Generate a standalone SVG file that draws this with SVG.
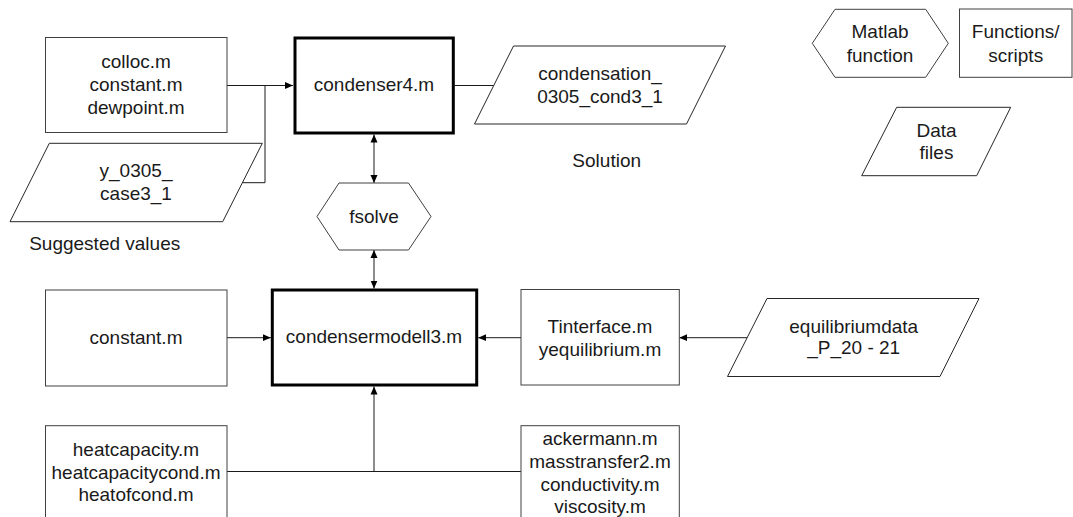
<svg xmlns="http://www.w3.org/2000/svg" width="1073" height="517" viewBox="0 0 1073 517">
  <defs>
    <style>
      .box { fill: #ffffff; stroke: #404040; stroke-width: 1; }
      .main { fill: #ffffff; stroke: #000000; stroke-width: 3; }
      .data { fill: #ffffff; stroke: #262626; stroke-width: 1; }
      .func { fill: #ffffff; stroke: #404040; stroke-width: 1; }
      .conn { fill: none; stroke: #1a1a1a; stroke-width: 1; }
      text { font-family: "Liberation Sans", Arial, sans-serif; font-size: 19px; fill: #1a1a1a; text-anchor: middle; }
    </style>
    <marker id="arrow" markerUnits="userSpaceOnUse" markerWidth="10" markerHeight="10" refX="8" refY="4" orient="auto-start-reverse" viewBox="0 0 10 8">
      <path d="M0,0.5 L8,4 L0,7.5 Z" fill="#000000"/>
    </marker>
  </defs>
  <rect width="1073" height="517" fill="#ffffff"/>

  <!-- connectors -->
  <g id="connectors">
    <path class="conn" d="M227,85.5 H293" marker-end="url(#arrow)"/>
    <path class="conn" d="M243,182.7 H265 V85.5"/>
    <path class="conn" d="M454.5,85.5 H493.7"/>
    <path class="conn" d="M374,134.5 V183" marker-start="url(#arrow)" marker-end="url(#arrow)"/>
    <path class="conn" d="M374,250 V288.5" marker-start="url(#arrow)" marker-end="url(#arrow)"/>
    <path class="conn" d="M227,337.7 H270.8" marker-end="url(#arrow)"/>
    <path class="conn" d="M521,337.7 H478.2" marker-end="url(#arrow)"/>
    <path class="conn" d="M747,337.7 H679.3" marker-end="url(#arrow)"/>
    <path class="conn" d="M227,471.5 H521"/>
    <path class="conn" d="M374,471.5 V386.5" marker-end="url(#arrow)"/>
  </g>

  <!-- inputs to condenser4.m -->
  <g id="colloc">
    <rect class="box" x="45.5" y="37.5" width="181.5" height="95"/>
    <text x="136" y="68">colloc.m</text>
    <text x="136" y="91">constant.m</text>
    <text x="136" y="114">dewpoint.m</text>
  </g>

  <g id="suggested">
    <polygon class="data" points="49.3,143.3 262.3,143.3 222.7,221.7 10,221.7"/>
    <text x="136" y="177">y_0305_</text>
    <text x="136" y="200">case3_1</text>
    <text x="104.7" y="250">Suggested values</text>
  </g>

  <g id="condenser4">
    <rect class="main" x="295" y="38" width="158.3" height="95"/>
    <text x="374" y="91">condenser4.m</text>
  </g>

  <g id="solution">
    <polygon class="data" points="513.5,46 725.5,46 686.5,124 474.5,124"/>
    <text x="600" y="80">condensation_</text>
    <text x="600" y="102.7">0305_cond3_1</text>
    <text x="606.7" y="167">Solution</text>
  </g>

  <g id="fsolve">
    <polygon class="func" points="317,216.5 339,183 408.5,183 431,216.5 408.5,250 339,250"/>
    <text x="374" y="223">fsolve</text>
  </g>

  <!-- model layer -->
  <g id="constant">
    <rect class="box" x="45.5" y="290" width="181.5" height="96"/>
    <text x="136" y="344">constant.m</text>
  </g>

  <g id="condensermodell3">
    <rect class="main" x="272.3" y="290" width="204.4" height="95"/>
    <text x="374" y="343">condensermodell3.m</text>
  </g>

  <g id="tinterface">
    <rect class="box" x="521" y="289.5" width="158.3" height="95.5"/>
    <text x="600" y="333">Tinterface.m</text>
    <text x="600" y="356">yequilibrium.m</text>
  </g>

  <g id="equilibriumdata">
    <polygon class="data" points="767,298.5 979,298.5 940,376.5 727.5,376.5"/>
    <text x="853.7" y="332.7">equilibriumdata</text>
    <text x="853.7" y="354">_P_20 - 21</text>
  </g>

  <g id="heatcapacity">
    <rect class="box" x="45.5" y="425.7" width="181.5" height="100"/>
    <text x="136" y="456">heatcapacity.m</text>
    <text x="136" y="478.7">heatcapacitycond.m</text>
    <text x="136" y="501.4">heatofcond.m</text>
  </g>

  <g id="ackermann">
    <rect class="box" x="521" y="425.7" width="158.3" height="100"/>
    <text x="600" y="445">ackermann.m</text>
    <text x="600" y="467.8">masstransfer2.m</text>
    <text x="600" y="490.6">conductivity.m</text>
    <text x="600" y="513.4">viscosity.m</text>
  </g>

  <!-- legend -->
  <g id="legend-function">
    <polygon class="func" points="812.3,43.3 835,9.3 925.7,9.3 948.3,43.3 925.7,77.3 835,77.3"/>
    <text x="880" y="38.3">Matlab</text>
    <text x="880" y="61.7">function</text>
  </g>

  <g id="legend-scripts">
    <rect class="box" x="959.5" y="9" width="112.5" height="68.3"/>
    <text x="1015.7" y="38.3">Functions/</text>
    <text x="1015.7" y="61.7">scripts</text>
  </g>

  <g id="legend-data">
    <polygon class="data" points="896.7,107.3 1010.7,107.3 976.7,175.7 861.7,175.7"/>
    <text x="936.5" y="136.7">Data</text>
    <text x="936.5" y="159.3">files</text>
  </g>
</svg>
